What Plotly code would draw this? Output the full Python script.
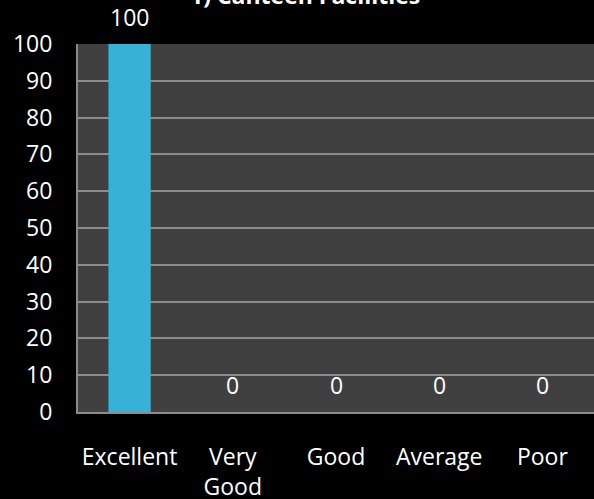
import plotly.graph_objects as go

categories = ["Excellent", "Very<br>Good", "Good", "Average", "Poor"]
values = [100, 0, 0, 0, 0]
value_labels = ["100", "0", "0", "0", "0"]
title_text = "1) Canteen Facilities"

FONT = "'Open Sans', sans-serif"
FS = 23

fig = go.Figure()
fig.add_trace(go.Bar(
    x=categories, y=values, width=0.41,
    marker=dict(color="#37B2D6", line=dict(color="#2A93B4", width=0)),
    hoverinfo="skip",
))

for c, v, t in zip(categories, values, value_labels):
    fig.add_annotation(x=c, y=v, text=t, showarrow=False, yanchor="middle",
                       yshift=27, font=dict(color="white", size=FS, family=FONT))

fig.add_annotation(x=0.44, y=1.133, xref="paper", yref="paper", text="<b>" + title_text + "</b>",
                   showarrow=False, yanchor="middle",
                   font=dict(color="white", size=23, family=FONT))

fig.update_layout(
    width=594, height=499,
    margin=dict(l=78, r=0, t=44, b=87),
    paper_bgcolor="black", plot_bgcolor="#404040",
    showlegend=False,
    font=dict(family=FONT, color="white", size=FS),
    bargap=0.59,
)
fig.update_yaxes(range=[0, 100], dtick=10, showgrid=True, gridcolor="#8C8C8C", gridwidth=1.5,
                 showline=True, linecolor="#8C8C8C", linewidth=2, zeroline=False,
                 tickfont=dict(size=FS, color="white"), ticks="outside", ticklen=19,
                 tickcolor="rgba(0,0,0,0)", automargin=False)
fig.update_xaxes(showline=True, linecolor="#8C8C8C", linewidth=2, showgrid=False,
                 tickfont=dict(size=FS, color="white"), ticks="outside", ticklen=23,
                 tickcolor="rgba(0,0,0,0)", automargin=False)

fig.write_html("out.html", config={"displayModeBar": False},
               post_script="document.body.style.margin='0';document.body.style.background='black';document.body.style.overflow='hidden';")
